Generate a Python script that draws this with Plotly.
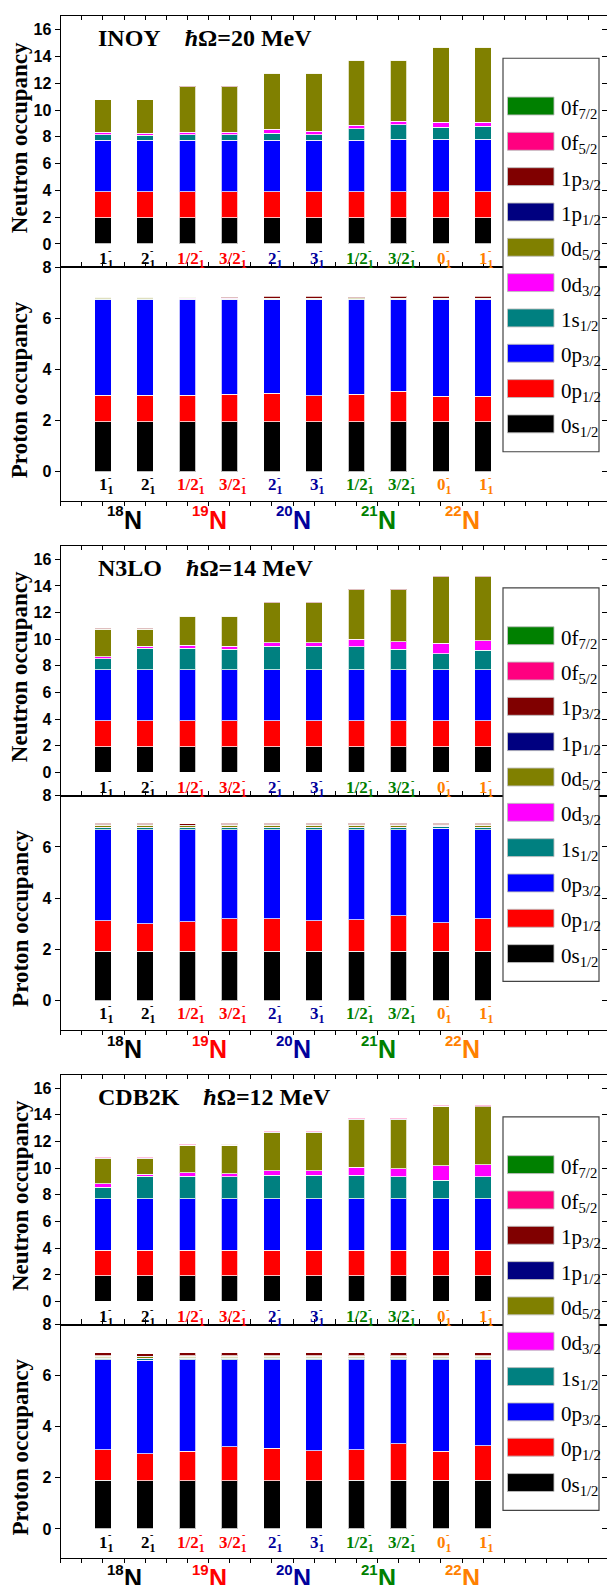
import plotly.graph_objects as go

W, H = 607, 1585

# ---------------- categories ----------------
STATE_MAIN = ["1", "2", "1/2", "3/2", "2", "3", "1/2", "3/2", "0", "1"]
STATE_NUCLIDE = [0, 0, 1, 1, 2, 2, 3, 3, 4, 4]
NUCLIDE_A = ["18", "19", "20", "21", "22"]
NUCLIDE_COLORS = ["#000000", "#ff0000", "#00009c", "#008000", "#ff8000"]

ORBITALS = ["0s1/2", "0p1/2", "0p3/2", "1s1/2", "0d3/2", "0d5/2", "1p1/2", "1p3/2", "0f5/2", "0f7/2"]
ORBITAL_COLORS = ["#000000", "#ff0000", "#0000ff", "#008080", "#ff00ff",
                  "#808000", "#000080", "#800000", "#ff0080", "#008000"]
LEGEND_ORDER = ["0f7/2", "0f5/2", "1p3/2", "1p1/2", "0d5/2", "0d3/2", "1s1/2", "0p3/2", "0p1/2", "0s1/2"]

INTERACTIONS = ["INOY", "N3LO", "CDB2K"]
HBAR_OMEGA = ["20", "14", "12"]

# ---------------- INOY ----------------
INOY_N_0S12 = [1.95, 1.95, 1.95, 1.95, 1.95, 1.95, 1.95, 1.95, 1.95, 1.95]
INOY_N_0P12 = [1.93, 1.93, 1.93, 1.93, 1.93, 1.93, 1.93, 1.93, 1.93, 1.93]
INOY_N_0P32 = [3.85, 3.85, 3.85, 3.85, 3.85, 3.85, 3.85, 3.92, 3.92, 3.92]
INOY_N_1S12 = [0.42, 0.37, 0.42, 0.42, 0.54, 0.42, 0.87, 1.10, 0.92, 0.97]
INOY_N_0D32 = [0.18, 0.15, 0.20, 0.20, 0.30, 0.25, 0.28, 0.25, 0.35, 0.33]
INOY_N_0D52 = [2.42, 2.50, 3.40, 3.40, 4.17, 4.34, 4.82, 4.55, 5.60, 5.57]
INOY_N_1P12 = [0, 0, 0, 0, 0, 0, 0, 0, 0, 0]
INOY_N_1P32 = [0.02, 0.02, 0.02, 0.02, 0.02, 0.02, 0.02, 0.02, 0.02, 0.02]
INOY_N_0F52 = [0, 0, 0, 0, 0, 0, 0, 0, 0, 0]
INOY_N_0F72 = [0, 0, 0, 0, 0, 0, 0, 0, 0, 0]

INOY_P_0S12 = [1.95, 1.95, 1.95, 1.95, 1.95, 1.95, 1.95, 1.95, 1.95, 1.95]
INOY_P_0P12 = [1.04, 1.04, 1.05, 1.09, 1.13, 1.03, 1.08, 1.20, 1.01, 1.01]
INOY_P_0P32 = [3.74, 3.74, 3.73, 3.69, 3.65, 3.75, 3.70, 3.58, 3.77, 3.77]
INOY_P_1S12 = [0.02, 0.02, 0.02, 0.02, 0.02, 0.02, 0.02, 0.02, 0.02, 0.02]
INOY_P_0D32 = [0.02, 0.02, 0.05, 0.04, 0.02, 0.02, 0.03, 0.02, 0.02, 0.02]
INOY_P_0D52 = [0.06, 0.06, 0.03, 0.03, 0.03, 0.03, 0.04, 0.03, 0.03, 0.03]
INOY_P_1P12 = [0, 0, 0, 0, 0, 0, 0, 0, 0, 0]
INOY_P_1P32 = [0.02, 0.02, 0.02, 0.03, 0.06, 0.06, 0.03, 0.06, 0.06, 0.06]
INOY_P_0F52 = [0, 0, 0, 0, 0, 0, 0, 0, 0, 0]
INOY_P_0F72 = [0, 0, 0, 0, 0, 0, 0, 0, 0, 0]

# ---------------- N3LO ----------------
N3LO_N_0S12 = [1.92, 1.92, 1.92, 1.92, 1.92, 1.92, 1.92, 1.92, 1.92, 1.92]
N3LO_N_0P12 = [1.94, 1.94, 1.94, 1.94, 1.94, 1.94, 1.94, 1.94, 1.94, 1.94]
N3LO_N_0P32 = [3.86, 3.86, 3.86, 3.86, 3.86, 3.86, 3.86, 3.86, 3.86, 3.86]
N3LO_N_1S12 = [0.80, 1.61, 1.59, 1.54, 1.74, 1.74, 1.71, 1.54, 1.19, 1.44]
N3LO_N_0D32 = [0.15, 0.15, 0.22, 0.20, 0.27, 0.27, 0.55, 0.55, 0.77, 0.71]
N3LO_N_0D52 = [2.09, 1.28, 2.19, 2.26, 2.99, 2.99, 3.74, 3.91, 5.00, 4.81]
N3LO_N_1P12 = [0, 0, 0, 0, 0, 0, 0, 0, 0, 0]
N3LO_N_1P32 = [0.05, 0.05, 0.05, 0.05, 0.05, 0.05, 0.05, 0.05, 0.05, 0.05]
N3LO_N_0F52 = [0, 0, 0, 0, 0, 0, 0, 0, 0, 0]
N3LO_N_0F72 = [0, 0, 0, 0, 0, 0, 0, 0, 0, 0]

N3LO_P_0S12 = [1.92, 1.92, 1.92, 1.92, 1.92, 1.92, 1.92, 1.92, 1.92, 1.92]
N3LO_P_0P12 = [1.19, 1.08, 1.16, 1.28, 1.27, 1.20, 1.24, 1.40, 1.12, 1.28]
N3LO_P_0P32 = [3.57, 3.68, 3.60, 3.48, 3.49, 3.56, 3.52, 3.36, 3.68, 3.48]
N3LO_P_1S12 = [0.06, 0.06, 0.06, 0.06, 0.06, 0.06, 0.06, 0.06, 0.06, 0.06]
N3LO_P_0D32 = [0.02, 0.02, 0.02, 0.02, 0.02, 0.02, 0.02, 0.02, 0.02, 0.02]
N3LO_P_0D52 = [0.08, 0.08, 0.06, 0.08, 0.08, 0.08, 0.08, 0.08, 0.04, 0.08]
N3LO_P_1P12 = [0.02, 0.02, 0.02, 0.02, 0.02, 0.02, 0.02, 0.02, 0.02, 0.02]
N3LO_P_1P32 = [0.06, 0.06, 0.06, 0.06, 0.06, 0.06, 0.06, 0.06, 0.06, 0.06]
N3LO_P_0F52 = [0, 0, 0, 0, 0, 0, 0, 0, 0, 0]
N3LO_P_0F72 = [0, 0, 0, 0, 0, 0, 0, 0, 0, 0]

# ---------------- CDB2K ----------------
CDB2K_N_0S12 = [1.92, 1.92, 1.92, 1.92, 1.92, 1.92, 1.92, 1.92, 1.92, 1.92]
CDB2K_N_0P12 = [1.91, 1.91, 1.91, 1.91, 1.91, 1.91, 1.91, 1.91, 1.91, 1.91]
CDB2K_N_0P32 = [3.87, 3.87, 3.87, 3.87, 3.87, 3.87, 3.87, 3.87, 3.87, 3.87]
CDB2K_N_1S12 = [0.87, 1.69, 1.69, 1.64, 1.76, 1.76, 1.76, 1.66, 1.39, 1.66]
CDB2K_N_0D32 = [0.25, 0.16, 0.27, 0.23, 0.34, 0.34, 0.60, 0.61, 1.07, 0.90]
CDB2K_N_0D52 = [1.89, 1.16, 2.04, 2.13, 2.87, 2.87, 3.58, 3.67, 4.47, 4.34]
CDB2K_N_1P12 = [0.02, 0.02, 0.02, 0.02, 0.02, 0.02, 0.02, 0.02, 0.02, 0.02]
CDB2K_N_1P32 = [0.05, 0.05, 0.05, 0.08, 0.05, 0.05, 0.05, 0.05, 0.05, 0.05]
CDB2K_N_0F52 = [0.04, 0.04, 0.04, 0.04, 0.04, 0.04, 0.04, 0.04, 0.04, 0.04]
CDB2K_N_0F72 = [0, 0, 0, 0, 0, 0, 0, 0, 0, 0]

CDB2K_P_0S12 = [1.91, 1.89, 1.89, 1.89, 1.89, 1.89, 1.91, 1.91, 1.91, 1.91]
CDB2K_P_0P12 = [1.19, 1.06, 1.15, 1.32, 1.28, 1.18, 1.19, 1.42, 1.14, 1.34]
CDB2K_P_0P32 = [3.53, 3.65, 3.59, 3.42, 3.46, 3.56, 3.53, 3.30, 3.58, 3.38]
CDB2K_P_1S12 = [0.06, 0.06, 0.06, 0.06, 0.06, 0.06, 0.06, 0.06, 0.06, 0.06]
CDB2K_P_0D32 = [0.02, 0.02, 0.02, 0.02, 0.02, 0.02, 0.02, 0.02, 0.02, 0.02]
CDB2K_P_0D52 = [0.06, 0.06, 0.06, 0.06, 0.06, 0.06, 0.06, 0.06, 0.06, 0.06]
CDB2K_P_1P12 = [0.02, 0.02, 0.02, 0.02, 0.02, 0.02, 0.02, 0.02, 0.02, 0.02]
CDB2K_P_1P32 = [0.10, 0.10, 0.10, 0.10, 0.10, 0.10, 0.10, 0.10, 0.10, 0.10]
CDB2K_P_0F52 = [0, 0, 0, 0, 0, 0, 0, 0, 0, 0]
CDB2K_P_0F72 = [0, 0, 0, 0, 0, 0, 0, 0, 0, 0]

PANEL_DATA = [
    ([INOY_N_0S12, INOY_N_0P12, INOY_N_0P32, INOY_N_1S12, INOY_N_0D32,
      INOY_N_0D52, INOY_N_1P12, INOY_N_1P32, INOY_N_0F52, INOY_N_0F72],
     [INOY_P_0S12, INOY_P_0P12, INOY_P_0P32, INOY_P_1S12, INOY_P_0D32,
      INOY_P_0D52, INOY_P_1P12, INOY_P_1P32, INOY_P_0F52, INOY_P_0F72]),
    ([N3LO_N_0S12, N3LO_N_0P12, N3LO_N_0P32, N3LO_N_1S12, N3LO_N_0D32,
      N3LO_N_0D52, N3LO_N_1P12, N3LO_N_1P32, N3LO_N_0F52, N3LO_N_0F72],
     [N3LO_P_0S12, N3LO_P_0P12, N3LO_P_0P32, N3LO_P_1S12, N3LO_P_0D32,
      N3LO_P_0D52, N3LO_P_1P12, N3LO_P_1P32, N3LO_P_0F52, N3LO_P_0F72]),
    ([CDB2K_N_0S12, CDB2K_N_0P12, CDB2K_N_0P32, CDB2K_N_1S12, CDB2K_N_0D32,
      CDB2K_N_0D52, CDB2K_N_1P12, CDB2K_N_1P32, CDB2K_N_0F52, CDB2K_N_0F72],
     [CDB2K_P_0S12, CDB2K_P_0P12, CDB2K_P_0P32, CDB2K_P_1S12, CDB2K_P_0D32,
      CDB2K_P_0D52, CDB2K_P_1P12, CDB2K_P_1P32, CDB2K_P_0F52, CDB2K_P_0F72]),
]

# ---------------- geometry (pixels) ----------------
PANEL_TOP = [8.3, 540.7, 1072.3]
PANEL_SEP = [260.7, 791.7, 1323.3]
PANEL_BOT = [495.0, 1026.7, 1557.7]
X_LEFT = 60.7
XRANGE = [-1.0, 11.93]
N_RANGE = [-1.75, 17.0]
P_RANGE = [-1.13, 8.0]
XPOS = list(range(len(STATE_MAIN)))
BAR_W = 0.39

SERIF = "Liberation Serif"
SANS = "Liberation Sans"


def px(x):
    return x / W


def py(y):
    return 1 - y / H


def label_html(name):
    return f"{name[:2]}<sub>{name[2:]}</sub>"


fig = go.Figure()
layout = dict(
    width=W, height=H, autosize=False,
    margin=dict(l=0, r=0, t=0, b=0, pad=0),
    paper_bgcolor="white", plot_bgcolor="white",
    barmode="stack", showlegend=False,
)
annotations = []
shapes = []

for k in range(3):
    top, sep, bot = PANEL_TOP[k], PANEL_SEP[k], PANEL_BOT[k]
    for j, (y0, y1, rng, ticks) in enumerate([
        (sep, top, N_RANGE, list(range(0, 17, 2))),
        (bot, sep, P_RANGE, list(range(0, 9, 2))),
    ]):
        idx = 2 * k + j + 1
        ovl = idx + 6
        xa = "x" if idx == 1 else f"x{idx}"
        ya = "y" if idx == 1 else f"y{idx}"
        dom_y = [py(y0), py(y1)]
        layout[f"xaxis{idx}"] = dict(
            domain=[px(X_LEFT), 1.0], anchor=ya, range=XRANGE,
            showgrid=False, zeroline=False, showticklabels=False,
            showline=True, linecolor="black", linewidth=1.3, mirror="ticks",
            ticks="inside" if j == 0 else "outside", tick0=-1, dtick=0.5,
            ticklen=4, tickwidth=1, tickcolor="black",
        )
        layout[f"yaxis{idx}"] = dict(
            domain=dom_y, anchor=xa, range=rng,
            showgrid=False, zeroline=False,
            showline=True, linecolor="black", linewidth=1.3, mirror=False,
            ticks="outside", tickvals=ticks, ticklen=5, tickwidth=1.2, tickcolor="black",
            tickfont=dict(family=SANS, size=16, color="black", weight="bold"),
        )
        layout[f"yaxis{ovl}"] = dict(
            overlaying=ya, side="right", anchor=xa, range=rng,
            showgrid=False, zeroline=False, showline=False, showticklabels=False,
            ticks="inside", tickvals=ticks, ticklen=5, tickwidth=1.2, tickcolor="black",
        )
        fig.add_trace(go.Scatter(x=[None], y=[None], xaxis=xa, yaxis=f"y{ovl}",
                                 showlegend=False, hoverinfo="skip"))

        series = PANEL_DATA[k][j]
        for o, vals in enumerate(series):
            fig.add_trace(go.Bar(
                x=XPOS, y=[v if v else None for v in vals], width=BAR_W,
                xaxis=xa, yaxis=ya, name=ORBITALS[o],
                marker=dict(color=ORBITAL_COLORS[o],
                            line=dict(color="rgba(255,255,255,0.75)", width=1)),
                showlegend=False,
            ))

        # state labels under the bars
        main_center = (top + 242.5) if j == 0 else (sep + 218.1)
        for i, main in enumerate(STATE_MAIN):
            col = NUCLIDE_COLORS[STATE_NUCLIDE[i]]
            w = sum(8.5 if ch.isdigit() else 4.7 for ch in main)
            annotations.append(dict(
                text=f"{main}<sub>1</sub>", x=XPOS[i], xref=xa, y=py(main_center + 2),
                yref="paper", xanchor="left", yanchor="middle", xshift=-w / 2 - 2,
                showarrow=False,
                font=dict(family=SERIF, size=17, color=col, weight="bold"),
            ))
            annotations.append(dict(
                text="-", x=XPOS[i], xref=xa, y=py(main_center - 7),
                yref="paper", xanchor="left", yanchor="middle", xshift=w / 2 - 1,
                showarrow=False,
                font=dict(family=SERIF, size=10, color=col, weight="bold"),
            ))
        # y-axis title
        if j == 0:
            yc, ttl = (top + sep) / 2 - 4, "Neutron occupancy"
        else:
            yc, ttl = (sep + bot) / 2 + 6, "Proton occupancy"
        annotations.append(dict(
            text=ttl, x=px(20.3), xref="paper", y=py(yc), yref="paper",
            xanchor="center", yanchor="middle", textangle=-90, showarrow=False,
            font=dict(family=SERIF, size=23, color="black", weight="bold"),
        ))

    # nuclide labels
    xa_p = f"x{2 * k + 2}"
    for n, a in enumerate(NUCLIDE_A):
        mid = (XPOS[2 * n] + XPOS[2 * n + 1]) / 2
        annotations.append(dict(
            text="N", x=mid, xref=xa_p, y=py(top + 506), yref="paper",
            xanchor="left", yanchor="middle", xshift=-2, showarrow=False,
            font=dict(family=SANS, size=25, color=NUCLIDE_COLORS[n], weight="bold"),
        ))
        annotations.append(dict(
            text=a, x=mid, xref=xa_p, y=py(top + 497), yref="paper",
            xanchor="right", yanchor="middle", xshift=2, showarrow=False,
            font=dict(family=SANS, size=15, color=NUCLIDE_COLORS[n], weight="bold"),
        ))

    # panel title
    annotations.append(dict(
        text=f"{INTERACTIONS[k]}\u00a0\u00a0\u00a0\u00a0<i>\u0127</i>\u03a9={HBAR_OMEGA[k]} MeV",
        x=px(96), xref="paper", y=py(top + 22), yref="paper",
        xanchor="left", yanchor="middle", showarrow=False,
        font=dict(family=SERIF, size=24, color="black", weight="bold"),
    ))

    # legend box
    shapes.append(dict(type="rect", xref="paper", yref="paper",
                       x0=px(503), x1=px(599), y0=py(top + 437.7), y1=py(top + 42.2),
                       line=dict(color="#444444", width=1.2), fillcolor="white", layer="above"))
    for e, name in enumerate(LEGEND_ORDER):
        cy = top + 90.2 + 35.5 * e
        col = ORBITAL_COLORS[ORBITALS.index(name)]
        shapes.append(dict(type="rect", xref="paper", yref="paper",
                           x0=px(507.5), x1=px(554), y0=py(cy + 9), y1=py(cy - 9),
                           line=dict(color="rgba(190,190,190,0.9)", width=1),
                           fillcolor=col, layer="above"))
        annotations.append(dict(
            text=label_html(name), x=px(559), xref="paper", y=py(cy + 3), yref="paper",
            xanchor="left", yanchor="middle", showarrow=False,
            font=dict(family=SERIF, size=21, color="black"),
        ))

layout["annotations"] = annotations
layout["shapes"] = shapes
fig.update_layout(**layout)

POST = (
    "document.documentElement.style.margin='0px';"
    "document.body.style.margin='0px';document.body.style.padding='0px';"
    "document.body.style.overflow='hidden';"
    "var d=document.getElementById('{plot_id}');"
    "d.style.position='fixed';d.style.left='0px';d.style.top='0px';"
)
fig.write_html("out.html", config={"displayModeBar": False}, post_script=POST)
